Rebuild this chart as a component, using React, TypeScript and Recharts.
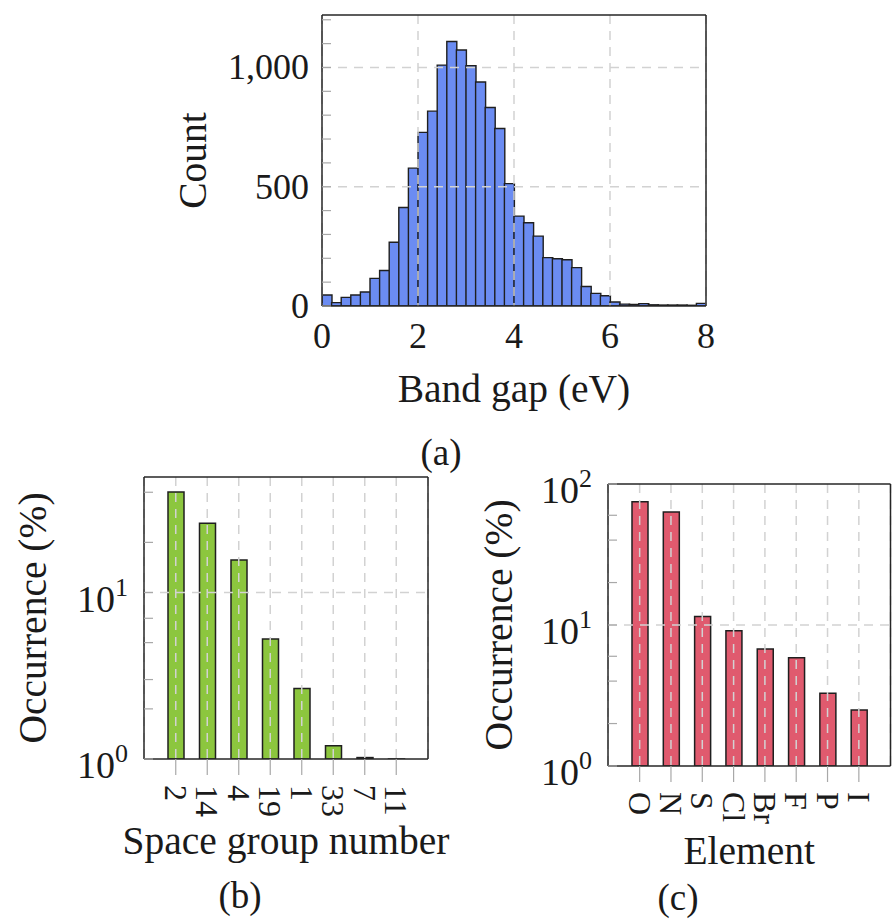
import { Bar, BarChart, CartesianGrid, ReferenceLine, XAxis, YAxis } from "recharts";

// (a) band gap histogram, 0.2 eV bins
const BIN_CENTERS = [
  0.1, 0.3, 0.5, 0.7, 0.9, 1.1, 1.3, 1.5, 1.7, 1.9,
  2.1, 2.3, 2.5, 2.7, 2.9, 3.1, 3.3, 3.5, 3.7, 3.9,
  4.1, 4.3, 4.5, 4.7, 4.9, 5.1, 5.3, 5.5, 5.7, 5.9,
  6.1, 6.3, 6.5, 6.7, 6.9, 7.1, 7.3, 7.5, 7.7, 7.9,
];
const BIN_COUNTS = [
  46, 14, 36, 46, 59, 116, 149, 267, 413, 578,
  728, 817, 1010, 1109, 1073, 1007, 939, 832, 744, 513,
  377, 349, 293, 203, 198, 194, 161, 82, 53, 43,
  17, 8, 7, 10, 5, 4, 4, 4, 3, 11,
];
const GAP_TICKS = [0, 2, 4, 6, 8];
const GAP_MINOR = [1, 2, 3, 4, 5, 6, 7];
const COUNT_TICKS = [0, 100, 200, 300, 400, 500, 600, 700, 800, 900, 1000, 1100, 1200];
const COUNT_LABELED = [0, 500, 1000];
const COUNT_GRID = [500, 1000];

// (b) space groups
const GROUPS = ["2", "14", "4", "19", "1", "33", "7", "11"];
const GROUP_PCT = [40.2, 26.1, 15.7, 5.25, 2.65, 1.2, 1.02, 0.9];
const LOG_TICKS_B = [1, 2, 3, 4, 5, 6, 7, 8, 9, 10, 20, 30, 40];

// (c) elements
const ELEMENTS = ["O", "N", "S", "Cl", "Br", "F", "P", "I"];
const ELEMENT_PCT = [74.9, 63.3, 11.5, 9.1, 6.76, 5.86, 3.28, 2.5];
const LOG_TICKS_C = [1, 2, 3, 4, 5, 6, 7, 8, 9, 10, 20, 30, 40, 50, 60, 70, 80, 90, 100];

const FONT = '"Liberation Serif", "DejaVu Serif", serif';
const INK = "#1a1a1a";
const FRAME = { stroke: "#262626", strokeWidth: 1.5 };
const MINOR = { stroke: "#a8a8a8", strokeWidth: 1.2 };
const GRID = { stroke: "#d2d2d2", strokeWidth: 1.5, strokeDasharray: "9 7" };
const BAR_EDGE = "#1f1f1f";

const gapData = BIN_CENTERS.map((c, i) => ({ center: c, count: BIN_COUNTS[i] }));
const groupData = GROUPS.map((g, i) => ({ group: g, pct: GROUP_PCT[i] }));
const elementData = ELEMENTS.map((e, i) => ({ element: e, pct: ELEMENT_PCT[i] }));

function CountTick({ x, y, payload }: any) {
  if (!COUNT_LABELED.includes(payload.value)) return <g />;
  return (
    <text x={x} y={y} textAnchor="end" dominantBaseline="central" fill={INK} fontSize={36}>
      {payload.value.toLocaleString("en-US")}
    </text>
  );
}

/** 10^k com o expoente em sobrescrito; os ticks menores ficam sem rotulo. */
function LogTick({ x, y, payload }: any) {
  const exp = Math.log10(payload.value);
  if (Math.abs(exp - Math.round(exp)) > 1e-6) return <g />;
  return (
    <text x={x} y={y + 19} textAnchor="end" fill={INK} fontSize={38}>
      10
      <tspan fontSize={26} dy={-16}>
        {Math.round(exp)}
      </tspan>
    </text>
  );
}

function RotTick({ x, y, payload }: any) {
  return (
    <text
      x={x}
      y={y}
      transform={`rotate(90, ${x}, ${y})`}
      textAnchor="start"
      dominantBaseline="central"
      fill={INK}
      fontSize={32}
    >
      {payload.value}
    </text>
  );
}

const axisTitle = (value: string, angle = 0) => ({
  value,
  position: "center" as const,
  angle,
  fill: INK,
  fontSize: 39.5,
});

function Caption({ x, y, text }: { x: number; y: number; text: string }) {
  return (
    <div
      style={{
        position: "absolute",
        left: x,
        top: y,
        transform: "translate(-50%, -50%)",
        fontSize: 37,
        lineHeight: 1,
        color: INK,
      }}
    >
      {text}
    </div>
  );
}

function BandGapChart() {
  return (
    <div style={{ position: "absolute", left: 0, top: 0 }}>
      <BarChart
        width={892}
        height={480}
        data={gapData}
        margin={{ top: 15, right: 186, bottom: 10, left: 62 }}
        barCategoryGap={0}
        barGap={0}
      >
        <XAxis
          dataKey="center"
          type="number"
          domain={[0, 8]}
          ticks={GAP_TICKS}
          allowDataOverflow
          height={164}
          tickSize={0}
          tickMargin={16}
          axisLine={FRAME}
          tick={{ fill: INK, fontSize: 36 }}
          label={axisTitle("Band gap (eV)")}
        />
        <XAxis
          xAxisId="top"
          orientation="top"
          mirror
          type="number"
          domain={[0, 8]}
          ticks={GAP_MINOR}
          allowDataOverflow
          height={1}
          tickSize={9}
          tickLine={MINOR}
          axisLine={FRAME}
          tick={false}
        />
        <YAxis
          type="number"
          domain={[0, 1220]}
          ticks={COUNT_TICKS}
          allowDataOverflow
          width={260}
          tickSize={-9}
          tickMargin={22}
          tickLine={MINOR}
          axisLine={FRAME}
          tick={<CountTick />}
          label={axisTitle("Count", -90)}
        />
        <YAxis
          yAxisId="r"
          orientation="right"
          mirror
          type="number"
          domain={[0, 1220]}
          ticks={COUNT_TICKS}
          allowDataOverflow
          width={1}
          tickSize={9}
          tickLine={MINOR}
          axisLine={FRAME}
          tick={false}
        />
        <Bar
          dataKey="count"
          fill="#6b8cf2"
          stroke={BAR_EDGE}
          strokeWidth={1.4}
          isAnimationActive={false}
        />
        <CartesianGrid horizontal={false} {...GRID} zIndex={350} />
        {COUNT_GRID.map((v) => (
          <ReferenceLine key={v} y={v} {...GRID} zIndex={350} />
        ))}
      </BarChart>
    </div>
  );
}

interface LogBarsProps {
  data: { pct: number }[];
  catKey: string;
  ticks: number[];
  domain: [number, number];
  fill: string;
  xTitle: string;
  left: number;
  width: number;
  height: number;
  margin: { top: number; right: number; bottom: number; left: number };
  yWidth: number;
  xHeight: number;
}

function LogBars(p: LogBarsProps) {
  return (
    <div style={{ position: "absolute", left: p.left, top: 440 }}>
      <BarChart width={p.width} height={p.height} data={p.data} margin={p.margin}>
        <XAxis
          dataKey={p.catKey}
          padding={{ left: 16, right: 16 }}
          height={p.xHeight}
          tickSize={16}
          tickMargin={10}
          tickLine={MINOR}
          axisLine={FRAME}
          tick={<RotTick />}
          interval={0}
          label={axisTitle(p.xTitle)}
        />
        <XAxis
          xAxisId="top"
          orientation="top"
          dataKey={p.catKey}
          padding={{ left: 16, right: 16 }}
          height={16}
          tickSize={16}
          tickLine={{ ...MINOR, strokeDasharray: "5 4" }}
          axisLine={FRAME}
          tick={false}
          interval={0}
        />
        <YAxis
          type="number"
          scale="log"
          domain={p.domain}
          ticks={p.ticks}
          allowDataOverflow
          width={p.yWidth}
          tickSize={-9}
          tickMargin={25}
          tickLine={MINOR}
          axisLine={FRAME}
          tick={<LogTick />}
          label={axisTitle("Occurrence (%)", -90)}
        />
        <YAxis
          yAxisId="r"
          orientation="right"
          mirror
          type="number"
          scale="log"
          domain={p.domain}
          ticks={p.ticks}
          allowDataOverflow
          width={1}
          tickSize={9}
          tickLine={MINOR}
          axisLine={FRAME}
          tick={false}
        />
        <Bar
          dataKey="pct"
          barSize={16}
          fill={p.fill}
          stroke={BAR_EDGE}
          strokeWidth={1.5}
          isAnimationActive={false}
        />
        <CartesianGrid horizontal={false} {...GRID} zIndex={350} />
        <ReferenceLine y={10} {...GRID} zIndex={350} />
      </BarChart>
    </div>
  );
}

export default function App() {
  return (
    <div
      style={{
        position: "absolute",
        left: 0,
        top: 0,
        width: 892,
        height: 922,
        overflow: "hidden",
        background: "#fff",
        fontFamily: FONT,
      }}
    >
      <BandGapChart />
      <LogBars
        data={groupData}
        catKey="group"
        ticks={LOG_TICKS_B}
        domain={[1, 49.4]}
        fill="#8cc63e"
        xTitle="Space group number"
        left={-80}
        width={550}
        height={482}
        margin={{ top: 21, right: 42, bottom: 1, left: 0 }}
        yWidth={224}
        xHeight={162}
      />
      <LogBars
        data={elementData}
        catKey="element"
        ticks={LOG_TICKS_C}
        domain={[1, 100]}
        fill="#e05a6e"
        xTitle="Element"
        left={388}
        width={504}
        height={500}
        margin={{ top: 28, right: 1.5, bottom: 6, left: 0 }}
        yWidth={220}
        xHeight={168}
      />
      <Caption x={441} y={452} text="(a)" />
      <Caption x={240} y={895} text="(b)" />
      <Caption x={678} y={897} text="(c)" />
    </div>
  );
}
